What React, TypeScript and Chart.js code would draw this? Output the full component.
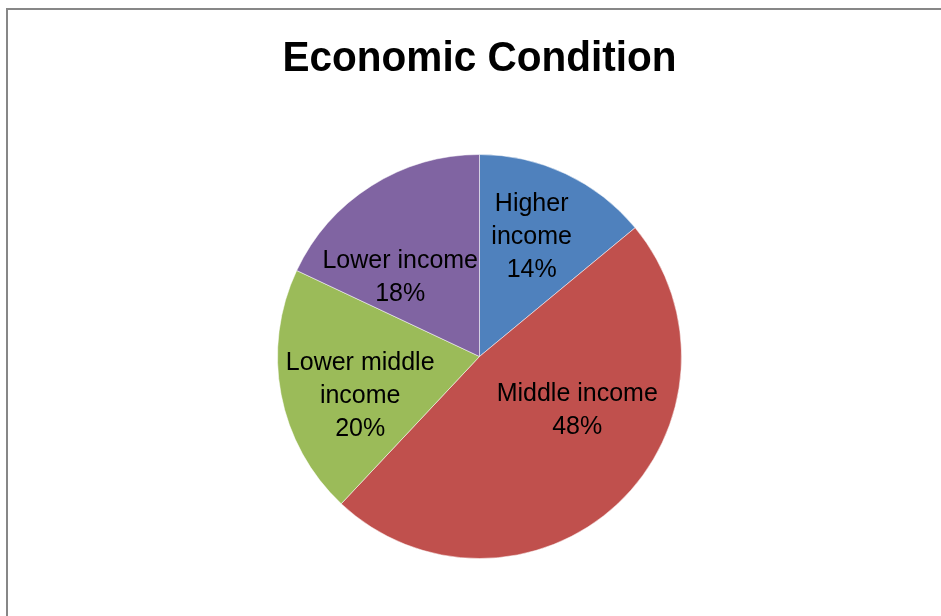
import React, { useEffect, useRef } from "react";
import { Chart, registerables } from "chart.js";

Chart.register(...registerables);

const TITLE = "Economic Condition";
const categories = ["Higher income", "Middle income", "Lower middle income", "Lower income"];
const labelLines = [["Higher", "income"], ["Middle income"], ["Lower middle", "income"], ["Lower income"]];
const shares = [14, 48, 20, 18];
const colors = ["#4F81BD", "#C0504D", "#9BBB59", "#8064A2"];
// label placement: radial fraction of outer radius and angle nudge (degrees)
const labelRadius = [0.65, 0.55, 0.62, 0.56];
const labelAngleNudge = [-1.8, -18.4, -6.9, -12.1];

const titlePlugin = {
  id: "narrowTitle",
  afterDraw(chart: any) {
    const ctx = chart.ctx;
    const area = chart.chartArea;
    const cx = (area.left + area.right) / 2;
    ctx.save();
    ctx.fillStyle = "#000";
    ctx.font = "bold 43px 'Liberation Sans', Arial, sans-serif";
    ctx.textAlign = "center";
    ctx.textBaseline = "alphabetic";
    const w = ctx.measureText(TITLE).width;
    const sx = 394 / w;
    ctx.translate(cx, 71);
    ctx.scale(sx, 1);
    ctx.fillText(TITLE, 0, 0);
    ctx.restore();
  },
};

const labelPlugin = {
  id: "sliceLabels",
  afterDatasetsDraw(chart: any) {
    const meta = chart.getDatasetMeta(0);
    const ctx = chart.ctx;
    const data = chart.data.datasets[0].data as number[];
    const total = data.reduce((a, b) => a + b, 0);
    ctx.save();
    ctx.fillStyle = "#000";
    ctx.font = "25px 'Liberation Sans', Arial, sans-serif";
    ctx.textAlign = "center";
    ctx.textBaseline = "middle";
    meta.data.forEach((arc: any, i: number) => {
      const p = arc.getProps(["x", "y", "startAngle", "endAngle", "outerRadius"], true);
      const mid = (p.startAngle + p.endAngle) / 2 + (labelAngleNudge[i] * Math.PI) / 180;
      const r = p.outerRadius * labelRadius[i];
      const cx = p.x + Math.cos(mid) * r;
      const cy = p.y + Math.sin(mid) * r + 1.5;
      const lines = [...labelLines[i], Math.round((data[i] / total) * 100) + "%"];
      const lh = 33;
      const top = cy - ((lines.length - 1) * lh) / 2;
      lines.forEach((t, k) => ctx.fillText(t, cx, top + k * lh));
    });
    ctx.restore();
  },
};

export default function App() {
  const ref = useRef<HTMLCanvasElement>(null);
  useEffect(() => {
    document.body.style.margin = "0";
    const chart = new Chart(ref.current!, {
      type: "pie",
      data: {
        labels: categories,
        datasets: [
          {
            data: shares,
            backgroundColor: colors,
            borderColor: "rgba(255,255,255,0.5)",
            borderWidth: 1,
          },
        ],
      },
      options: {
        responsive: false,
        animation: false,
        layout: { padding: { top: 154, left: 277, right: 259, bottom: 57 } },
        plugins: {
          legend: { display: false },
          tooltip: { enabled: false },
          title: { display: false },
        },
      },
      plugins: [labelPlugin, titlePlugin],
    });
    return () => chart.destroy();
  }, []);
  return (
    <div style={{ position: "fixed", left: 0, top: 0, width: 941, height: 616, background: "#fff", overflow: "hidden" }}>
      <div
        style={{
          position: "absolute",
          left: 6,
          top: 8,
          width: 960,
          height: 640,
          borderTop: "2px solid #878787",
          borderLeft: "2px solid #878787",
        }}
      />
      <canvas ref={ref} width={941} height={616} style={{ position: "absolute", left: 0, top: 0 }} />
    </div>
  );
}
